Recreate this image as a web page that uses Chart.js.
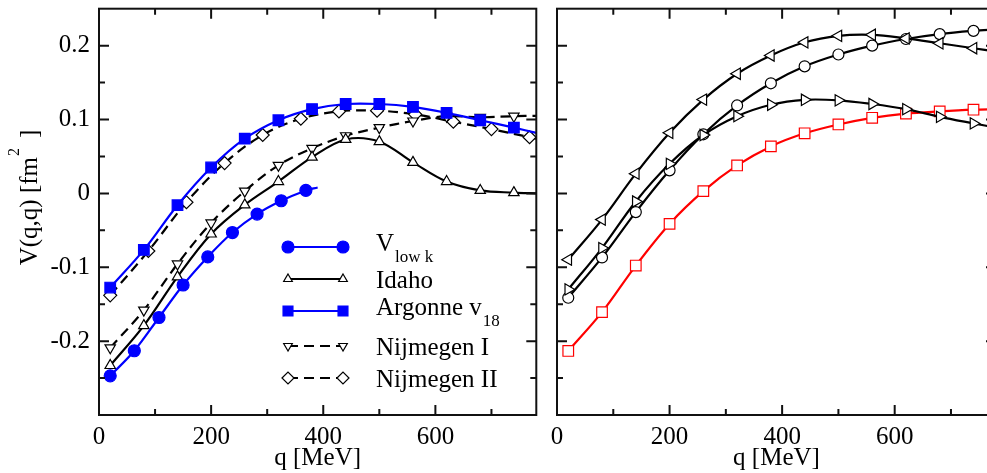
<!DOCTYPE html>
<html>
<head>
<meta charset="utf-8">
<script src="https://cdn.jsdelivr.net/npm/chart.js@4.4.1/dist/chart.umd.min.js"></script>
<style>
  html, body { margin: 0; padding: 0; background: #fff; overflow: hidden; }
  body { width: 987px; height: 473px; position: relative; }
  canvas { position: absolute; top: 0; }
  #left { left: 0; }
  #right { left: 545px; }
</style>
</head>
<body>
<canvas id="left" width="545" height="473"></canvas>
<canvas id="right" width="460" height="473"></canvas>
<script>
// momentum points (MeV); the last entry only carries the curve on to the frame
const qGrid = [20, 80, 140, 200, 260, 320, 380, 440, 500, 560, 620, 680, 740, 780];
const qLowK = [20, 63, 107, 150, 194, 238, 282, 325, 369, 390];
const qNijm2 = [20, 88, 156, 224, 292, 360, 428, 496, 564, 632, 700, 768, 780];

// left panel, V(q,q) in fm^2
const vLowK = [-0.247, -0.213, -0.168, -0.124, -0.086, -0.053, -0.028, -0.010, 0.004, 0.008];
const vIdaho = [-0.233, -0.179, -0.113, -0.055, -0.0155, 0.016, 0.049, 0.073, 0.070, 0.042, 0.016, 0.004, 0.001, 0.000];
const vArgonne = [-0.1275, -0.0765, -0.016, 0.035, 0.074, 0.099, 0.114, 0.121, 0.121, 0.117, 0.109, 0.099, 0.089, 0.082];
const vNijm1 = [-0.209, -0.158, -0.0955, -0.040, 0.003, 0.038, 0.061, 0.078, 0.089, 0.098, 0.1045, 0.103, 0.1045, 0.105];
const vNijm2 = [-0.138, -0.078, -0.012, 0.041, 0.079, 0.101, 0.111, 0.112, 0.107, 0.097, 0.087, 0.076, 0.074];

// right panel
const vReid93 = [-0.130, -0.074, -0.011, 0.040, 0.079, 0.1045, 0.120, 0.1267, 0.126, 0.121, 0.114, 0.1036, 0.0947, 0.089];
const vNijm93 = [-0.0897, -0.0355, 0.0267, 0.082, 0.127, 0.162, 0.1867, 0.2045, 0.2133, 0.2147, 0.2098, 0.2032, 0.1965, 0.192];
const vCDBonn = [-0.2133, -0.1608, -0.0977, -0.0413, 0.003, 0.0378, 0.0636, 0.0813, 0.0933, 0.1023, 0.108, 0.111, 0.1133, 0.114];
const vBonnA = [-0.1413, -0.0867, -0.0253, 0.0312, 0.080, 0.119, 0.149, 0.172, 0.188, 0.200, 0.209, 0.2156, 0.220, 0.222];

// legend text (main part + subscript)
const leftLabels = ['V', 'Idaho', 'Argonne v', 'Nijmegen I', 'Nijmegen II'];
const leftSubs = ['low k', '', '18', '', ''];
const rightLabels = ['Reid93', 'Nijm93', 'CD Bonn', 'Bonn A'];

// axis ticks
const xTickValues = [0, 200, 400, 600];
const xTickLabels = ['0', '200', '400', '600'];
const xMinor = [100, 300, 500, 700];
const yTickValues = [-0.2, -0.1, 0, 0.1, 0.2];
const yTickLabels = ['-0.2', '-0.1', '0', '0.1', '0.2'];
const yMinor = [-0.25, -0.15, -0.05, 0.05, 0.15];

const SERIF = '"Liberation Serif", "Times New Roman", serif';
Chart.defaults.font.family = SERIF;
Chart.defaults.font.size = 25;
Chart.defaults.color = '#000';

const pts = (qs, vs) => qs.map((q, i) => ({ x: q, y: vs[i] }));
// marker on every point except an extension point at the end
const marks = (n, r, ext) => Array.from({ length: n }, (_, i) => (ext && i === n - 1 ? 0 : r));

function series(label, qs, vs, o) {
  return Object.assign({
    label: label,
    data: pts(qs, vs),
    borderColor: '#000',
    borderWidth: 2.2,
    pointBorderColor: '#000',
    pointBackgroundColor: '#fff',
    pointBorderWidth: 1.2,
    tension: 0.35,
    fill: false
  }, o);
}

// frame with inward ticks on all four sides
const frame = {
  id: 'frame',
  afterDatasetsDraw(chart) {
    const { ctx, chartArea: a, scales: { x, y } } = chart;
    ctx.save();
    ctx.strokeStyle = '#111';
    ctx.lineWidth = 2;
    ctx.strokeRect(a.left, a.top, a.right - a.left, a.bottom - a.top);
    ctx.beginPath();
    const tx = (v, len) => {
      const p = x.getPixelForValue(v);
      ctx.moveTo(p, a.bottom); ctx.lineTo(p, a.bottom - len);
      ctx.moveTo(p, a.top); ctx.lineTo(p, a.top + len);
    };
    const ty = (v, len) => {
      const p = y.getPixelForValue(v);
      ctx.moveTo(a.left, p); ctx.lineTo(a.left + len, p);
      ctx.moveTo(a.right, p); ctx.lineTo(a.right - len, p);
    };
    xTickValues.forEach(v => tx(v, 10));
    xMinor.forEach(v => tx(v, 6));
    yTickValues.forEach(v => ty(v, 10));
    yMinor.forEach(v => ty(v, 6));
    ctx.stroke();
    ctx.restore();
  }
};

const panelLegend = {
  id: 'panelLegend',
  afterDraw(chart, args, opts) {
    const ctx = chart.ctx;
    ctx.save();
    chart.data.datasets.forEach((ds, i) => {
      const y = opts.rows[i];
      ctx.strokeStyle = ds.borderColor;
      ctx.lineWidth = ds.borderWidth;
      ctx.setLineDash(ds.borderDash || []);
      ctx.beginPath();
      ctx.moveTo(opts.x1, y);
      ctx.lineTo(opts.x2, y);
      ctx.stroke();
      ctx.setLineDash([]);
      ctx.fillStyle = ds.pointBackgroundColor;
      ctx.strokeStyle = ds.pointBorderColor;
      ctx.lineWidth = ds.pointBorderWidth;
      const p = { pointStyle: ds.pointStyle, rotation: ds.pointRotation || 0, radius: opts.radius[i], borderWidth: ds.pointBorderWidth };
      Chart.helpers.drawPoint(ctx, p, opts.x1, y);
      Chart.helpers.drawPoint(ctx, p, opts.x2, y);

      const sub = opts.subs ? opts.subs[i] : '';
      const base = y + (sub ? 3.5 : 9);
      ctx.fillStyle = '#000';
      ctx.textAlign = 'left';
      ctx.textBaseline = 'alphabetic';
      ctx.font = '25px ' + SERIF;
      ctx.fillText(ds.label, opts.textX, base);
      if (sub) {
        const w = ctx.measureText(ds.label).width;
        ctx.font = '17px ' + SERIF;
        ctx.fillText(sub, opts.textX + w + 1, base + 11);
      }
    });
    ctx.restore();
  }
};

// rotated y title with superscript
const yTitle = {
  id: 'yTitle',
  afterDraw(chart) {
    const ctx = chart.ctx;
    ctx.save();
    ctx.translate(37, 197.5);
    ctx.rotate(-Math.PI / 2);
    ctx.fillStyle = '#000';
    ctx.textBaseline = 'alphabetic';
    ctx.textAlign = 'left';
    const main = 'V(q,q) [fm', close = ']', sup = '2';
    ctx.font = '25px ' + SERIF;
    const wMain = ctx.measureText(main).width;
    const wClose = ctx.measureText(close).width;
    ctx.font = '16px ' + SERIF;
    const wSup = ctx.measureText(sup).width;
    const total = wMain + 1 + wSup + 10 + wClose;
    let x = -total / 2;
    ctx.font = '25px ' + SERIF;
    ctx.fillText(main, x, 0);
    x += wMain + 1;
    ctx.font = '16px ' + SERIF;
    ctx.fillText(sup, x, -18);
    x += wSup + 10;
    ctx.font = '25px ' + SERIF;
    ctx.fillText(close, x, 0);
    ctx.restore();
  }
};

function scales(yWidth, showY) {
  return {
    x: {
      type: 'linear', min: 0, max: 780,
      afterBuildTicks: s => { s.ticks = xTickValues.map(v => ({ value: v })); },
      afterFit: s => { s.height = 58; s.paddingLeft = 0; s.paddingRight = 0; },
      grid: { display: false, drawTicks: false },
      border: { display: false },
      ticks: { padding: 7, maxRotation: 0, autoSkip: false, callback: (v, i) => xTickLabels[i] },
      title: { display: true, text: 'q [MeV]', padding: 0 }
    },
    y: {
      type: 'linear', min: -0.3, max: 0.25,
      afterBuildTicks: s => { s.ticks = yTickValues.map(v => ({ value: v })); },
      afterFit: s => { s.width = yWidth; s.paddingTop = 0; s.paddingBottom = 0; },
      grid: { display: false, drawTicks: false },
      border: { display: false },
      ticks: { display: showY, padding: 9, autoSkip: false, callback: (v, i) => yTickLabels[i] }
    }
  };
}

const common = {
  responsive: false,
  animation: false,
  events: [],
  devicePixelRatio: 1
};

new Chart(document.getElementById('left'), {
  type: 'line',
  data: {
    datasets: [
      series(leftLabels[0], qLowK, vLowK, {
        borderColor: '#0000ff', pointBorderColor: '#0000ff', pointBackgroundColor: '#0000ff',
        pointStyle: 'circle', pointRadius: marks(qLowK.length, 6, true)
      }),
      series(leftLabels[1], qGrid, vIdaho, {
        pointStyle: 'triangle', pointRadius: marks(qGrid.length, 6, true)
      }),
      series(leftLabels[2], qGrid, vArgonne, {
        borderColor: '#0000ff', pointBorderColor: '#0000ff', pointBackgroundColor: '#0000ff',
        pointStyle: 'rect', pointRadius: marks(qGrid.length, 7.5, true)
      }),
      series(leftLabels[3], qGrid, vNijm1, {
        borderDash: [10, 6], pointStyle: 'triangle', pointRotation: 180,
        pointRadius: marks(qGrid.length, 6, true)
      }),
      series(leftLabels[4], qNijm2, vNijm2, {
        borderDash: [10, 6], pointStyle: 'rectRot',
        pointRadius: marks(qNijm2.length, 6.5, true)
      })
    ]
  },
  options: Object.assign({}, common, {
    layout: { padding: { top: 4, right: 7, left: 0, bottom: 0 } },
    scales: scales(99, true),
    plugins: {
      legend: { display: false },
      tooltip: { enabled: false },
      panelLegend: {
        x1: 288, x2: 343, textX: 376,
        rows: [247, 279, 311, 346, 378],
        radius: [6, 5, 7, 5, 6],
        subs: leftSubs
      }
    }
  }),
  plugins: [frame, panelLegend, yTitle]
});

new Chart(document.getElementById('right'), {
  type: 'line',
  data: {
    datasets: [
      series(rightLabels[0], qGrid, vReid93, {
        pointStyle: 'triangle', pointRotation: 90, pointRadius: marks(qGrid.length, 6.5, true)
      }),
      series(rightLabels[1], qGrid, vNijm93, {
        pointStyle: 'triangle', pointRotation: 270, pointRadius: marks(qGrid.length, 6.5, true)
      }),
      series(rightLabels[2], qGrid, vCDBonn, {
        borderColor: '#ff0000', pointBorderColor: '#ff0000',
        pointStyle: 'rect', pointRadius: marks(qGrid.length, 7.5, true)
      }),
      series(rightLabels[3], qGrid, vBonnA, {
        pointStyle: 'circle', pointRadius: marks(qGrid.length, 5.5, true)
      })
    ]
  },
  options: Object.assign({}, common, {
    layout: { padding: { top: 4, right: 9, left: 0, bottom: 0 } },
    scales: scales(12, false),
    plugins: {
      legend: { display: false },
      tooltip: { enabled: false },
      panelLegend: {
        x1: 769, x2: 825, textX: 857,
        rows: [278, 308, 338, 367],
        radius: [6, 6, 6.5, 5]
      }
    }
  }),
  plugins: [frame, panelLegend]
});
</script>
</body>
</html>
